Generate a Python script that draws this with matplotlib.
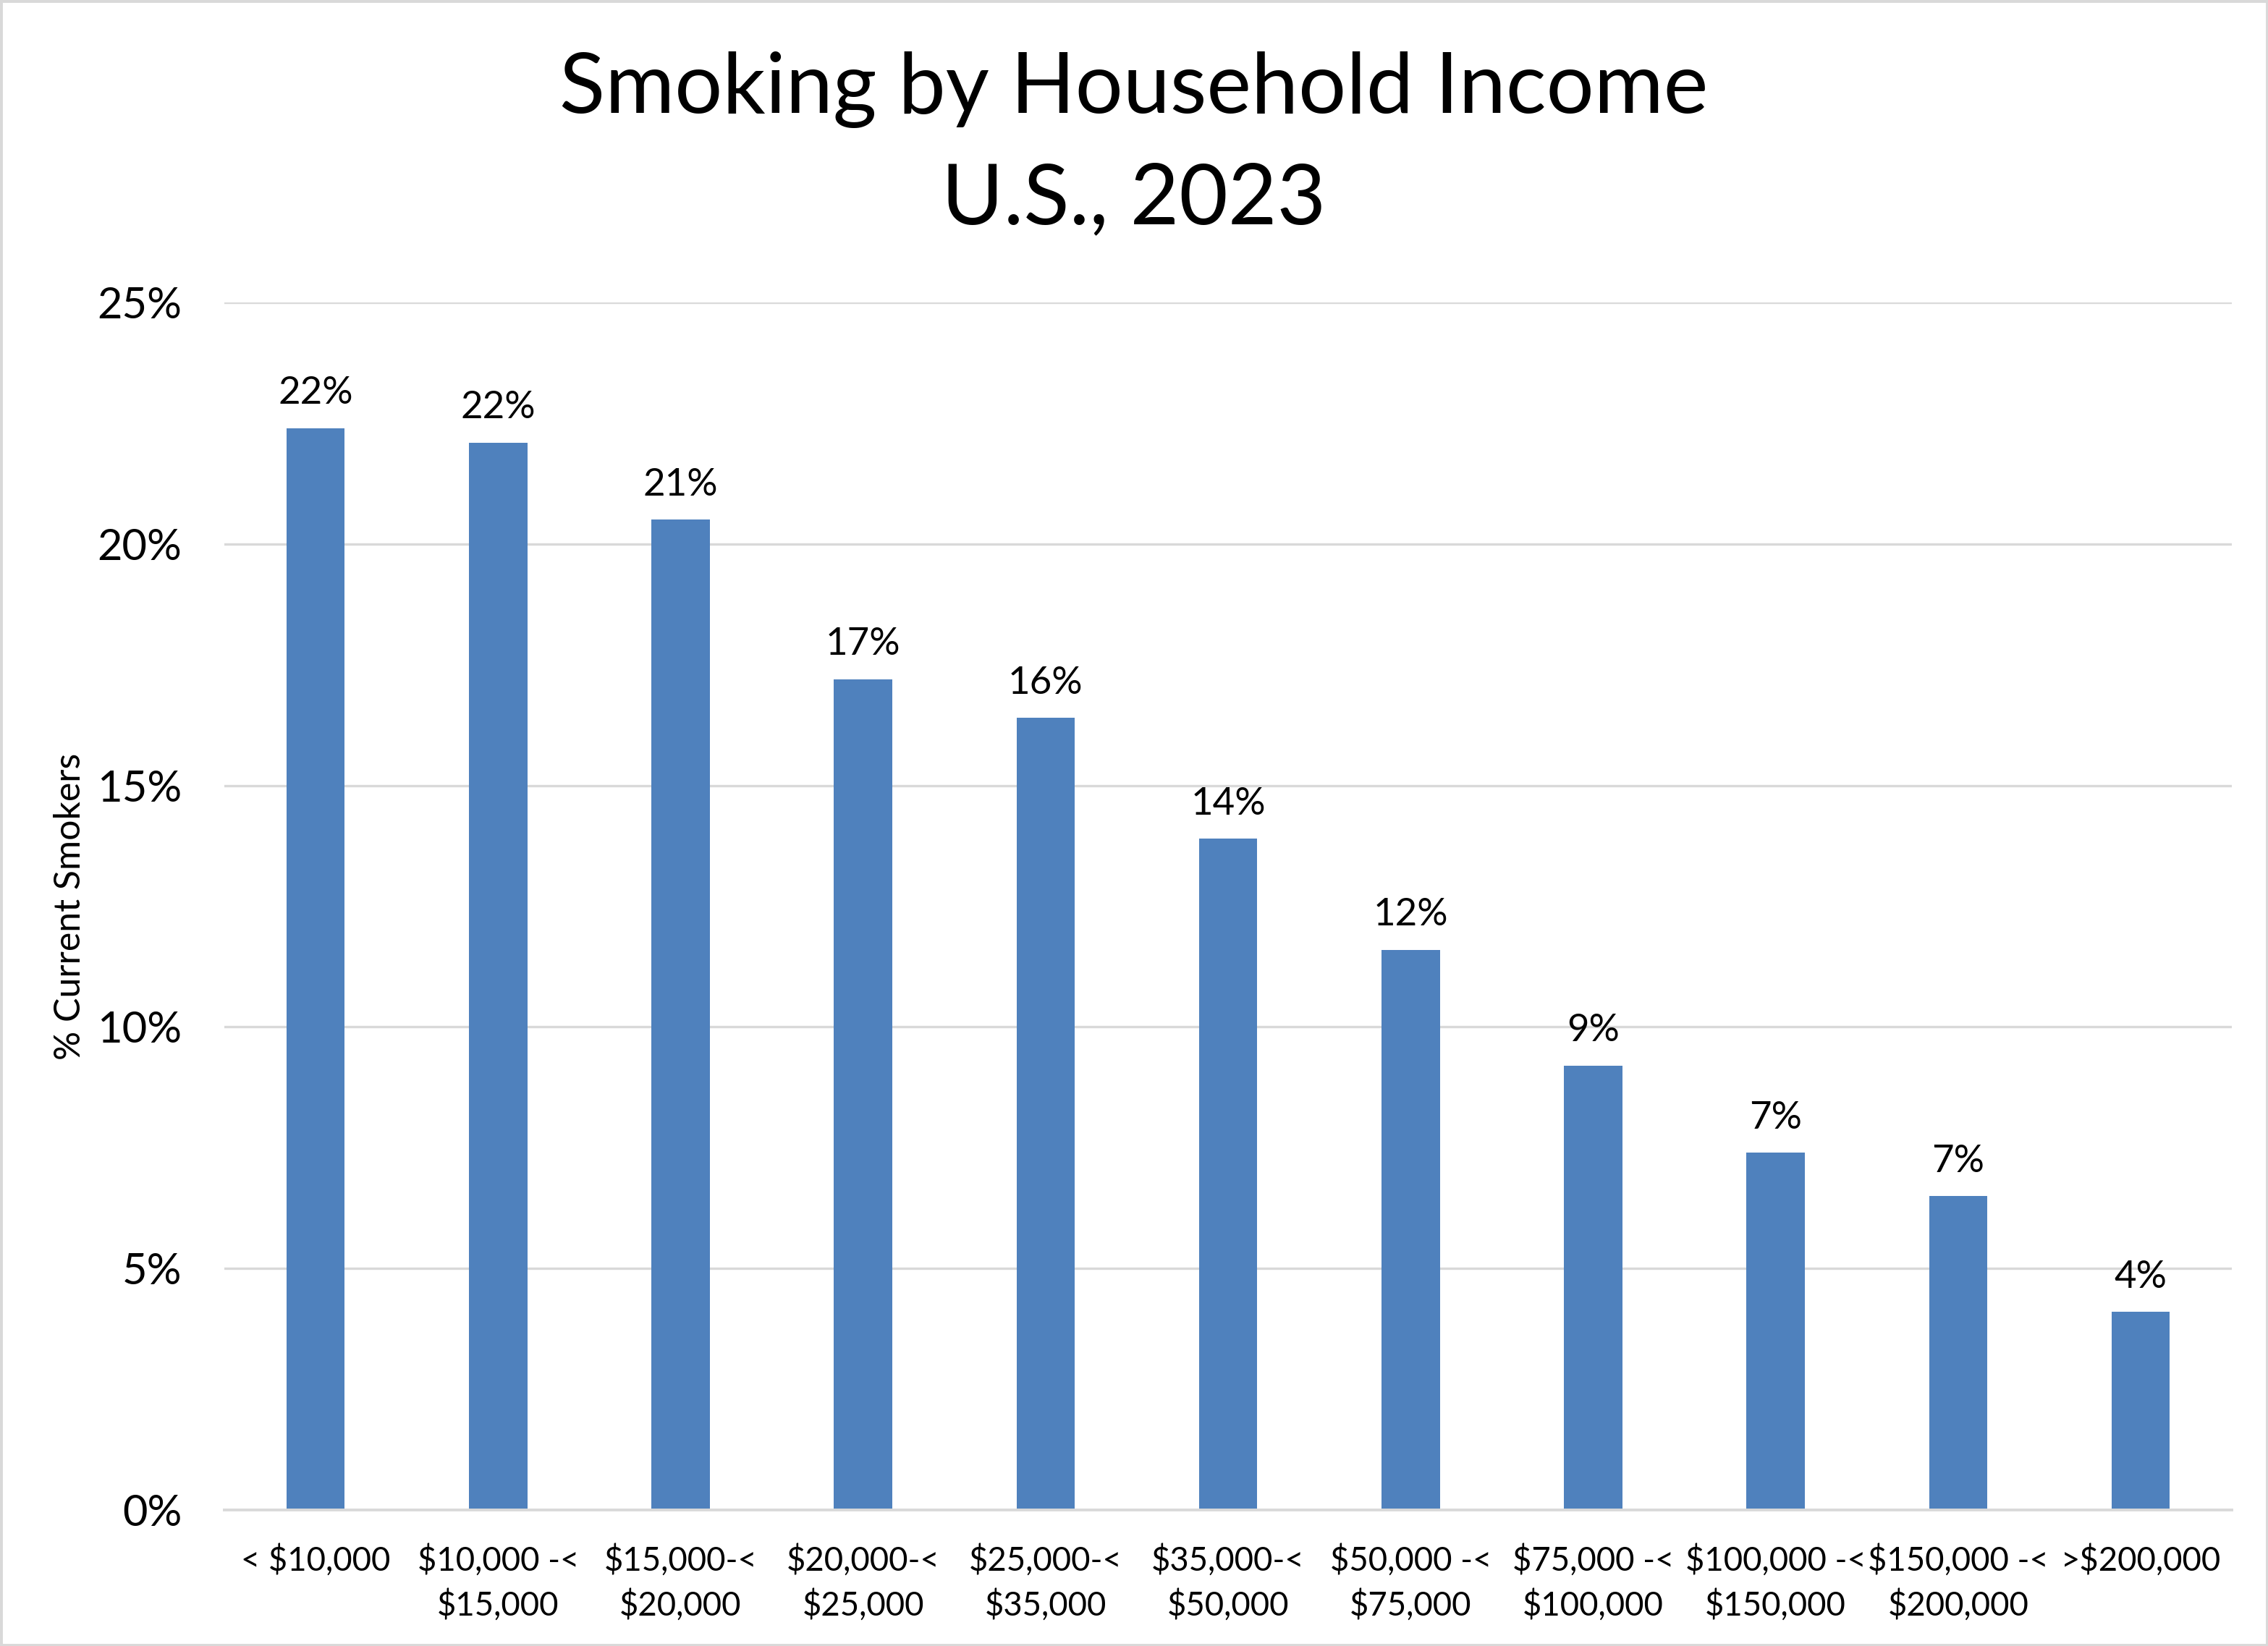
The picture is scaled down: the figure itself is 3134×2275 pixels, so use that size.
import matplotlib
matplotlib.use("Agg")
import matplotlib.pyplot as plt
from matplotlib.ticker import FuncFormatter
from matplotlib.patches import Rectangle

# Dados
categories = ["< $10,000", "$10,000 -<\n$15,000", "$15,000-<\n$20,000",
              "$20,000-<\n$25,000", "$25,000-<\n$35,000", "$35,000-<\n$50,000",
              "$50,000 -<\n$75,000", "$75,000 -<\n$100,000", "$100,000 -<\n$150,000",
              "$150,000 -<\n$200,000", ">$200,000"]
smokers = [22.4, 22.1, 20.5, 17.2, 16.4, 13.9, 11.6, 9.2, 7.4, 6.5, 4.1]
bar_labels = ["22%", "22%", "21%", "17%", "16%", "14%", "12%", "9%", "7%", "7%", "4%"]
yticks = [0, 5, 10, 15, 20, 25]

plt.rcParams["font.family"] = ["Lato", "DejaVu Sans"]

fig = plt.figure(figsize=(15.67, 11.375), dpi=200)
ax = fig.add_axes([0.0989, 0.0826, 0.8852, 0.7337])

x = list(range(len(categories)))
bars = ax.bar(x, smokers, width=0.32, color="#4f81bd", zorder=3)

for b, lab in zip(bars, bar_labels):
    ax.annotate(lab, (b.get_x() + b.get_width() / 2, b.get_height()),
                xytext=(0, 12), textcoords="offset points",
                ha="center", va="baseline", fontsize=19)

ax.set_xlim(-0.5, len(categories) - 0.5)
ax.set_ylim(0, 25)
ax.set_yticks(yticks)
ax.yaxis.set_major_formatter(FuncFormatter(lambda v, p: f"{v:.0f}%"))
ax.set_xticks(x)
ax.set_xticklabels(categories, fontsize=16.4, linespacing=1.45)
ax.tick_params(axis="y", length=0, pad=21, labelsize=21.5)
ax.tick_params(axis="x", length=0, pad=17)

ax.grid(axis="y", color="#d9d9d9", linewidth=1.2, zorder=0)
for s in ["left", "right", "top"]:
    ax.spines[s].set_visible(False)
ax.spines["bottom"].set_color("#d9d9d9")
ax.spines["bottom"].set_linewidth(1.4)
ax.spines["bottom"].set_zorder(4)

ax.set_ylabel("% Current Smokers", fontsize=18, labelpad=5)

fig.text(0.5, 0.912, "Smoking by Household Income\nU.S., 2023",
         ha="center", va="center", fontsize=42, linespacing=1.55)

# borda da figura
fig.patches.append(Rectangle((0, 0), 1, 1, transform=fig.transFigure,
                             fill=False, edgecolor="#d9d9d9", linewidth=2.5))

fig.savefig("out.png", dpi=200)
